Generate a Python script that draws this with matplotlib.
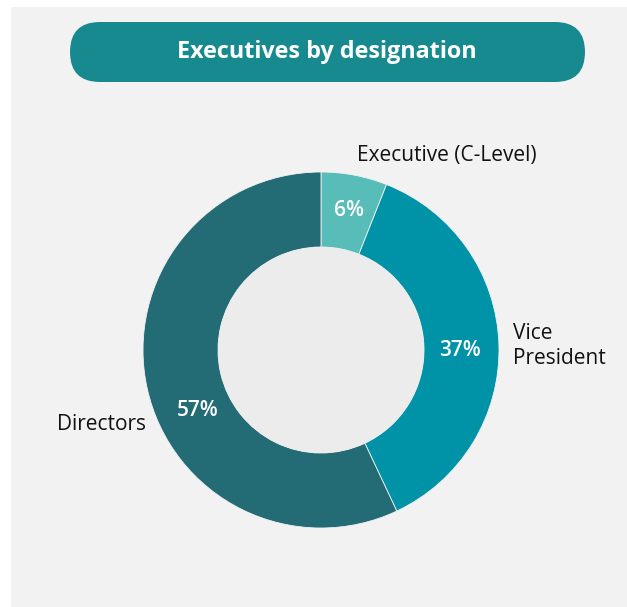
import matplotlib
matplotlib.use("Agg")
import matplotlib.pyplot as plt
from matplotlib.patches import FancyBboxPatch, Rectangle, Circle

plt.rcParams['font.family'] = ['Open Sans', 'DejaVu Sans']

# data
categories = ["Executive (C-Level)", "Vice\nPresident", "Directors"]
shares = [6, 37, 57]
colors = ["#58bdb9", "#0093a7", "#236b75"]
title = "Executives by designation"

W, H = 627, 607


def py(y):
    # pixel row (from top) -> data y
    return H - y


fig = plt.figure(figsize=(W / 100, H / 100), dpi=100, facecolor="white")
ax = fig.add_axes([0, 0, 1, 1])
ax.set_xlim(0, W)
ax.set_ylim(0, H)
ax.set_aspect("equal")
ax.axis("off")

# grey panel
ax.add_patch(Rectangle((11, 0), W - 11, py(7), facecolor="#f2f2f2", edgecolor="none", zorder=0))

# title pill
ax.add_patch(FancyBboxPatch((70, py(82)), 515, 60,
                            boxstyle="round,pad=0,rounding_size=30",
                            facecolor="#178a8f", edgecolor="none", zorder=1))
ax.text(327, py(52), title, color="white", fontsize=16.8, fontweight="bold",
        ha="center", va="center", zorder=2)

# donut
cx, cy, r = 321, py(350), 178
wedges, _, pcts = ax.pie(shares, colors=colors, startangle=90, counterclock=False,
                         center=(cx, cy), radius=r, autopct="%d%%", pctdistance=0.78,
                         wedgeprops=dict(width=75, edgecolor="#f2f2f2", linewidth=0.6),
                         textprops=dict(color="white", fontsize=15, fontweight="semibold"))
ax.add_patch(Circle((cx, cy), r - 75, facecolor="#ececec", edgecolor="none", zorder=3))
ax.set_xlim(0, W)
ax.set_ylim(0, H)

# percent label spots
pct_pos = [(349, 210), (460, 350), (198, 410)]
for t, (x, y) in zip(pcts, pct_pos):
    t.set_position((x, py(y)))
    t.set_ha("center")
    t.set_va("center")

# category labels
lab_pos = [(357, 155, "left"), (513, 346, "left"), (146, 424, "right")]
for name, (x, y, ha) in zip(categories, lab_pos):
    ax.text(x, py(y), name, fontsize=15, color="#111111", ha=ha, va="center",
            linespacing=1.2)

fig.savefig("out.png", dpi=100, facecolor="white")
